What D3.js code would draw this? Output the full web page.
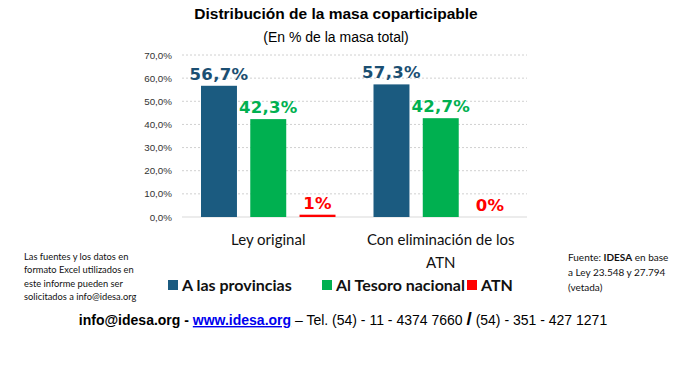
<!DOCTYPE html>
<html>
<head>
<meta charset="utf-8">
<script src="https://cdn.jsdelivr.net/npm/d3@7"></script>
<style>
  body { margin: 0; background: #fff; }
  svg { display: block; }
</style>
</head>
<body>
<svg id="chart" width="673" height="368"></svg>
<script>
// chart data
var categories = [['Ley original'], ['Con eliminación de los', 'ATN']];
var seriesNames = ['A las provincias', 'Al Tesoro nacional', 'ATN'];
var seriesColors = ['#1b5b80', '#00b050', '#ff0000'];
var labelColors = ['#1b4f72', '#00b050', '#ff0000'];
var provincias = [56.7, 57.3];
var tesoro = [42.3, 42.7];
var atn = [1, 0];
var valueLabels = [['56,7%', '42,3%', '1%'], ['57,3%', '42,7%', '0%']];
var yTicks = [0, 10, 20, 30, 40, 50, 60, 70];

var svg = d3.select('#chart');
var margin = { left: 182, right: 146, top: 55, bottom: 151 };
var width = 673 - margin.left - margin.right;
var height = 368 - margin.top - margin.bottom;

var g = svg.append('g').attr('transform', 'translate(' + margin.left + ',' + margin.top + ')');

var x0 = d3.scaleBand().domain(d3.range(categories.length)).range([0, width]).paddingInner(0).paddingOuter(0);
var x1 = d3.scaleBand().domain(d3.range(seriesNames.length)).range([19, x0.bandwidth() - 19]).paddingInner(0.27).paddingOuter(0);
var y = d3.scaleLinear().domain([0, 70]).range([height, 0]);

// title
svg.append('text').attr('x', 336).attr('y', 19).attr('text-anchor', 'middle')
    .style('font-family', 'Liberation Sans, Arial').style('font-weight', 'bold').style('font-size', '15.5px')
    .text('Distribución de la masa coparticipable');
svg.append('text').attr('x', 336).attr('y', 42).attr('text-anchor', 'middle')
    .style('font-family', 'Liberation Sans, Arial').style('font-size', '14px')
    .text('(En % de la masa total)');

// grid + y axis
var yAxis = g.append('g').call(d3.axisLeft(y).tickValues(yTicks).tickSize(0).tickPadding(10)
    .tickFormat(function (d) { return d.toFixed(1).replace('.', ',') + '%'; }));
yAxis.select('.domain').remove();
yAxis.selectAll('text').style('font-family', 'Liberation Sans, Arial').style('font-size', '9.8px').style('fill', '#333');

g.append('g').selectAll('line').data(yTicks.filter(function (d) { return d > 0; })).enter().append('line')
    .attr('x1', 0).attr('x2', width).attr('y1', function (d) { return y(d); }).attr('y2', function (d) { return y(d); })
    .style('stroke', '#d0d0d0').style('stroke-dasharray', '2,2');
g.append('line').attr('x1', 0).attr('x2', width).attr('y1', y(0)).attr('y2', y(0))
    .style('stroke', '#d9d9d9').style('stroke-width', 1);

// bars
var rows = categories.map(function (c, i) { return [provincias[i], tesoro[i], atn[i]]; });
var groups = g.selectAll('.grp').data(rows).enter().append('g')
    .attr('transform', function (d, i) { return 'translate(' + x0(i) + ',0)'; });

groups.each(function (row, ci) {
    var grp = d3.select(this);
    grp.selectAll('rect').data(row).enter().append('rect')
        .attr('x', function (d, si) { return x1(si); })
        .attr('y', function (d) { return y(d); })
        .attr('width', x1.bandwidth())
        .attr('height', function (d) { return y(0) - y(d); })
        .style('fill', function (d, si) { return seriesColors[si]; });
    grp.selectAll('text').data(row).enter().append('text')
        .attr('x', function (d, si) { return x1(si) + x1.bandwidth() / 2; })
        .attr('y', function (d) { return y(d) - 6; })
        .attr('text-anchor', 'middle')
        .style('font-family', '"DejaVu Sans", Verdana, sans-serif').style('font-weight', 'bold').style('font-size', '16.5px')
        .style('letter-spacing', '0.3px')
        .style('fill', function (d, si) { return labelColors[si]; })
        .text(function (d, si) { return valueLabels[ci][si]; });
});

// category labels
categories.forEach(function (lines, i) {
    lines.forEach(function (t, li) {
        svg.append('text').attr('x', margin.left + x0(i) + x0.bandwidth() / 2).attr('y', 245 + li * 23)
            .attr('text-anchor', 'middle')
            .style('font-family', 'Lato, Open Sans').style('font-size', '15px').style('fill', '#111')
            .text(t);
    });
});

// legend
var legendX = [168, 322, 467];
seriesNames.forEach(function (n, i) {
    svg.append('rect').attr('x', legendX[i]).attr('y', 280).attr('width', 10).attr('height', 10)
        .style('fill', seriesColors[i]);
    svg.append('text').attr('x', legendX[i] + 14).attr('y', 291)
        .style('font-family', 'Lato, Open Sans').style('font-weight', 'bold').style('font-size', '16px').style('fill', '#111')
        .text(n);
});

// side notes
var leftNote = ['Las fuentes y los datos en', 'formato Excel utilizados en', 'este informe pueden ser', 'solicitados a info@idesa.org'];
leftNote.forEach(function (t, i) {
    svg.append('text').attr('x', 24).attr('y', 260 + i * 13.3)
        .style('font-family', 'Lato, Open Sans').style('font-size', '9.3px').style('fill', '#111').text(t);
});
var rightNote = svg.append('g').style('font-family', 'Lato, Open Sans').style('font-size', '10px').style('fill', '#111');
var r1 = rightNote.append('text').attr('x', 568).attr('y', 261);
r1.append('tspan').text('Fuente: ');
r1.append('tspan').style('font-weight', 'bold').text('IDESA');
r1.append('tspan').text(' en base');
rightNote.append('text').attr('x', 568).attr('y', 276).text('a Ley 23.548 y 27.794');
rightNote.append('text').attr('x', 568).attr('y', 291).text('(vetada)');

// footer
var foot = svg.append('text').attr('x', 343).attr('y', 325).attr('text-anchor', 'middle')
    .style('font-family', 'Liberation Sans, Arial').style('font-size', '14px').style('fill', '#000');
foot.append('tspan').style('font-weight', 'bold').text('info@idesa.org - ');
foot.append('tspan').style('font-weight', 'bold').style('fill', '#0000ee').style('text-decoration', 'underline').text('www.idesa.org');
foot.append('tspan').text(' – Tel. (54) - 11 - 4374 7660 ');
foot.append('tspan').style('font-weight', 'bold').style('font-size', '19px').text('/');
foot.append('tspan').text(' (54) - 351 - 427 1271');
</script>
</body>
</html>
